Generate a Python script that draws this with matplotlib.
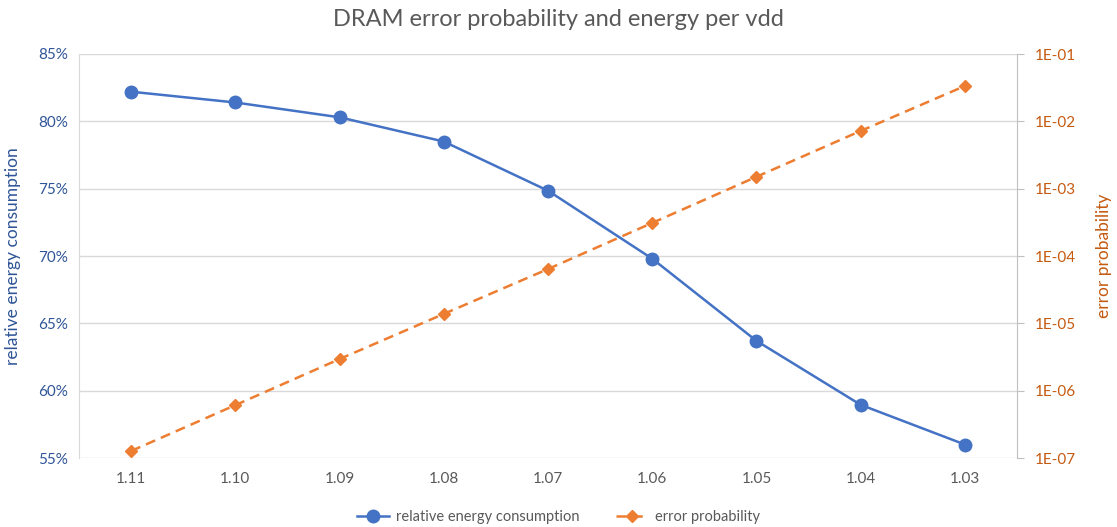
import math
import matplotlib
matplotlib.use("Agg")
import matplotlib.pyplot as plt
from matplotlib.ticker import FixedLocator, FuncFormatter, NullLocator

plt.rcParams['font.family'] = ['Lato', 'DejaVu Sans']

vdd = ["1.11", "1.10", "1.09", "1.08", "1.07", "1.06", "1.05", "1.04", "1.03"]
energy = [82.2, 81.4, 80.3, 78.5, 74.85, 69.8, 63.7, 58.95, 56.0]
error_prob = [1.27e-7, 6.1e-7, 2.95e-6, 1.38e-5, 6.4e-5, 3.1e-4, 1.5e-3, 7.2e-3, 3.35e-2]

blue = "#4472C4"
orange = "#ED7D31"
grid_c = "#D9D9D9"

fig = plt.figure(figsize=(11.17, 5.27), dpi=100)
ax = fig.add_axes([79/1117, 1-458/527, (1017-79)/1117, (458-54)/527])
ax2 = ax.twinx()

x = list(range(len(vdd)))
ax.set_xlim(-0.5, len(vdd)-0.5)
ax.set_ylim(55, 85)
ax.set_yticks([55, 60, 65, 70, 75, 80, 85])
ax.yaxis.set_major_formatter(FuncFormatter(lambda v, p: f"{v:.0f}%"))
ax.grid(axis='y', color=grid_c, linewidth=1)
ax.set_axisbelow(True)
ax.set_xticks(x)
ax.set_xticklabels(vdd)

ax2.set_yscale('log')
ax2.set_ylim(1e-7, 1e-1)
ax2.yaxis.set_major_locator(FixedLocator([1e-7, 1e-6, 1e-5, 1e-4, 1e-3, 1e-2, 1e-1]))
ax2.yaxis.set_minor_locator(NullLocator())
ax2.yaxis.set_major_formatter(FuncFormatter(lambda v, p: f"1E-{-int(round(math.log10(v))):02d}"))

l1, = ax.plot(x, energy, color=blue, linewidth=1.8, marker='o', markersize=9,
              label="relative energy consumption", zorder=3)
l2, = ax2.plot(x, error_prob, color=orange, linewidth=1.8, linestyle=(0, (4, 2.5)),
               marker='D', markersize=6, label="error probability", zorder=3)

for a in (ax, ax2):
    for s in ('top', 'bottom'):
        a.spines[s].set_visible(False)
ax.spines['right'].set_visible(False)
ax2.spines['left'].set_visible(False)
ax.spines['left'].set_color(grid_c)
ax2.spines['right'].set_color("#BFBFBF")

ax.tick_params(axis='y', length=0, labelsize=11, labelcolor="#2F5597", pad=8)
ax.tick_params(axis='x', length=0, labelsize=11, labelcolor="#595959", pad=10)
ax2.tick_params(axis='y', length=5, color="#BFBFBF", labelsize=11, labelcolor="#C55A11", pad=8)

ax.set_ylabel("relative energy consumption", color="#2F5597", fontsize=12.5, labelpad=12)
ax2.set_ylabel("error probability", color="#C55A11", fontsize=12.5, labelpad=14)

fig.text(0.5, 1-19/527, "DRAM error probability and energy per vdd", ha='center', va='center',
         fontsize=17, color="#595959")

leg = fig.legend(handles=[l1, l2], loc='center', bbox_to_anchor=(0.5, 1-517/527), ncol=2,
                 frameon=False, fontsize=10.5, labelcolor="#595959", handlelength=2.2,
                 columnspacing=2.5, handletextpad=0.5)

fig.savefig("out.png", dpi=100)
